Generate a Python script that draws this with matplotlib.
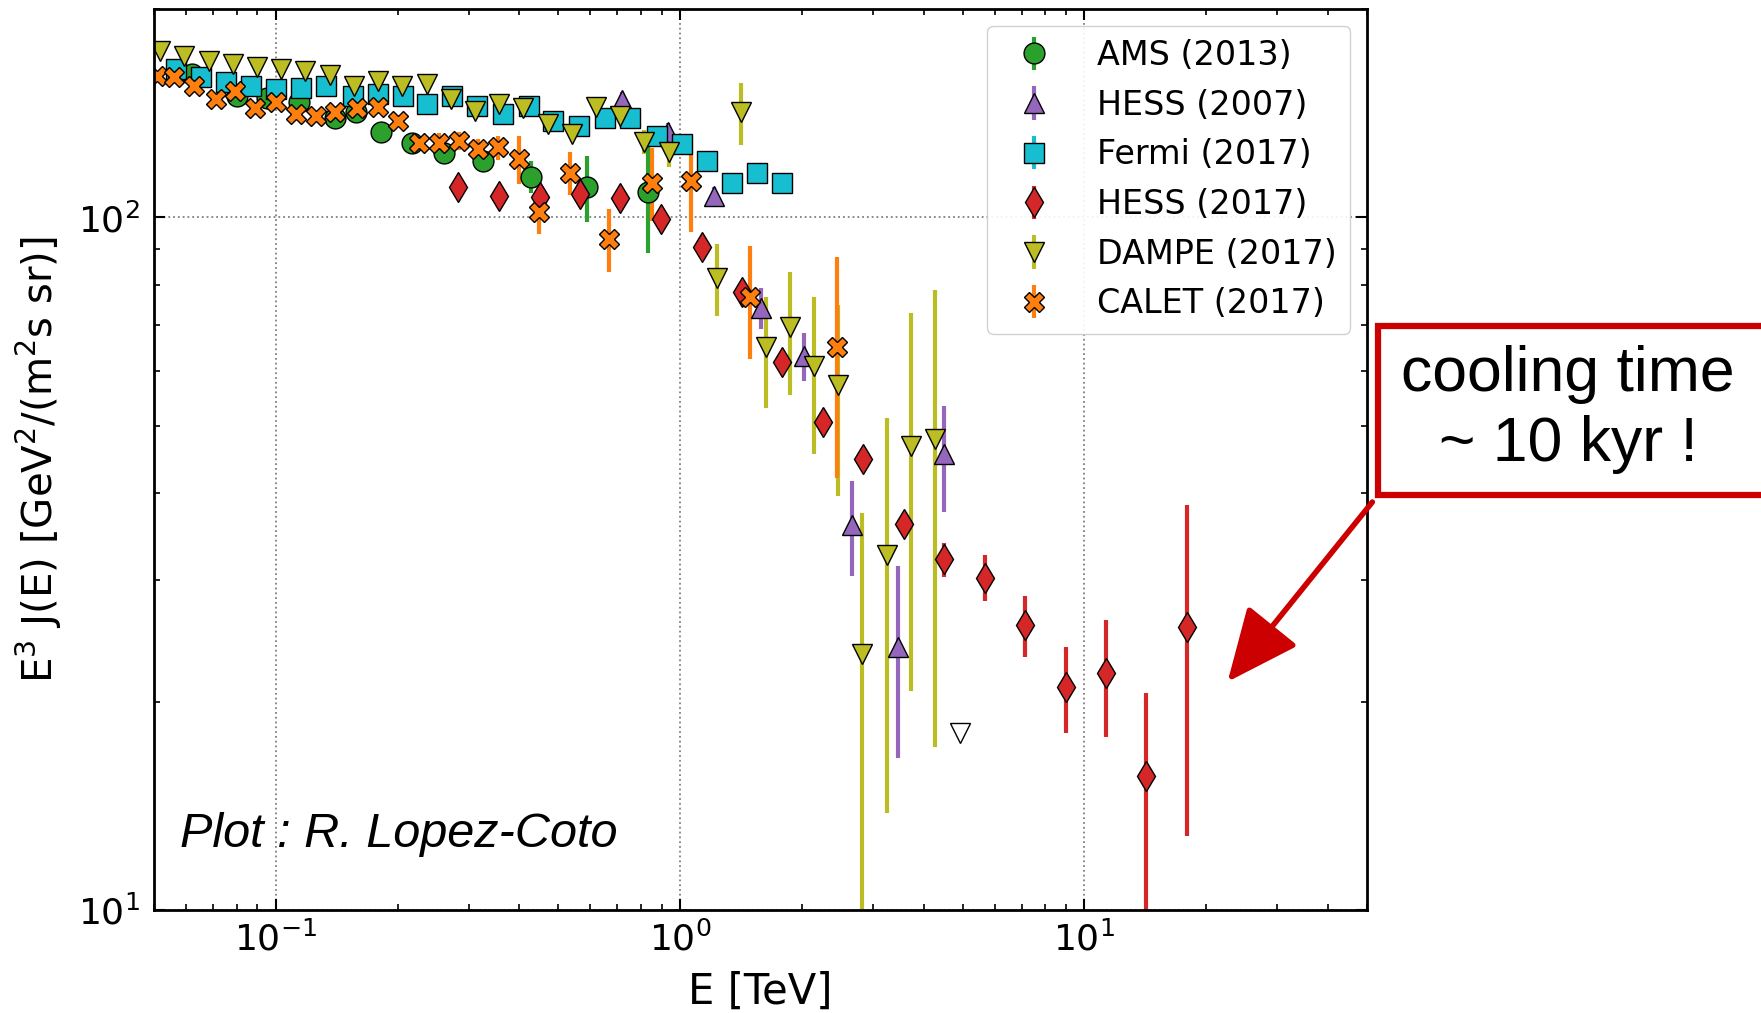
import numpy as np
import matplotlib
matplotlib.use('Agg')
import matplotlib.pyplot as plt
from matplotlib.patches import Rectangle, FancyArrowPatch
from matplotlib.ticker import NullFormatter

# AMS (2013)
ams_E = [0.062, 0.080, 0.095, 0.114, 0.140, 0.158, 0.182, 0.217, 0.260, 0.325, 0.428, 0.59, 0.833]
ams_J = [161, 150, 149, 147, 139, 142, 133, 128, 124, 120.5, 114.5, 110.6, 109]
ams_err = [1, 1, 1, 1, 1.5, 1.5, 2, 2, 3, 4, 6, 12, 20]

# HESS (2007)
hess07_E = [0.717, 0.935, 1.215, 1.585, 2.02, 2.66, 3.46, 4.5]
hess07_J = [148, 133, 107.5, 74, 63, 36, 24, 45.5]
hess07_err = [4, 4, 3, 5, 5, 5.6, 7.4, 8]

# Fermi (2017)
fermi_E = [0.0567, 0.0654, 0.0754, 0.0870, 0.1003, 0.1156, 0.1334, 0.1553, 0.1791,
           0.2067, 0.2359, 0.2721, 0.3137, 0.3656, 0.4217, 0.4862, 0.5609, 0.6518,
           0.7518, 0.8753, 1.0097, 1.164, 1.343, 1.548, 1.785]
fermi_J = [163.8, 159.3, 156.7, 155.0, 153.2, 154.0, 155.0, 149.9, 150.7,
           149.9, 145.8, 149.9, 145.0, 141.1, 145.0, 138.0, 135.7, 139.4,
           139.4, 131.2, 127.6, 120.7, 112.3, 116.1, 112.3]
fermi_err = [2, 2, 2, 2, 2, 2, 2, 2, 2, 2, 2, 2, 2.5, 2.5, 2.5, 2.5, 3, 3,
             3, 3, 3, 3, 3, 3, 3]

# HESS (2017)
hess17_E = [0.283, 0.357, 0.449, 0.566, 0.712, 0.897, 1.13, 1.42, 1.79, 2.25,
            2.84, 3.57, 4.50, 5.66, 7.13, 8.98, 11.3, 14.2, 17.9]
hess17_J = [110.5, 107.5, 106.9, 108.0, 106.8, 99.6, 90.5, 78.0, 61.8, 50.7,
            44.8, 36.1, 32.1, 30.2, 25.8, 21.0, 22.0, 15.6, 25.6]
hess17_lo = [2, 2, 2, 2, 2, 2, 2, 2, 1.5, 1.5, 1.5, 1.5, 1.8, 2.3, 2.6, 3, 4.2, 6.0, 12.8]
hess17_hi = [2, 2, 2, 2, 2, 2, 2, 2, 1.5, 1.5, 1.5, 1.5, 1.8, 2.3, 2.6, 3, 4.2, 5.0, 12.8]

# DAMPE (2017)
dampe_E = [0.0517, 0.0594, 0.0682, 0.0782, 0.0898, 0.1031, 0.1184, 0.1359, 0.1560,
           0.1790, 0.2055, 0.2359, 0.2708, 0.3108, 0.3568, 0.4096, 0.4702, 0.5397,
           0.6194, 0.7110, 0.8162, 0.9369, 1.2346, 1.417, 1.627, 1.867, 2.143,
           2.460, 2.824, 3.242, 3.721, 4.272]
dampe_J = [174.1, 171.2, 168.4, 166.5, 164.7, 163.8, 162.9, 160.7, 155.0,
           157.6, 155.0, 155.8, 148.2, 142.6, 145.8, 144.1, 136.4, 131.9,
           144.5, 140.3, 128.7, 124.2, 81.9, 141.8, 64.9, 69.4, 61.1,
           57.2, 23.4, 32.6, 46.7, 47.9]
dampe_err = [2, 2, 2, 2, 2, 2, 2, 2, 2, 2, 2, 2, 2.5, 2.5, 3, 3, 3, 3.5,
             4, 4, 5, 6, 9.8, 14.7, 11.8, 14, 15.6, 17.6, 14, 18.8, 26, 30.7]

# open triangle (no legend entry)
open_E = [4.92]
open_J = [18.0]

# CALET (2017)
calet_E = [0.0507, 0.0561, 0.0628, 0.0710, 0.0794, 0.0888, 0.1003, 0.1122, 0.1255,
           0.1404, 0.1586, 0.1793, 0.2005, 0.2264, 0.2532, 0.2833, 0.3170, 0.3545,
           0.4006, 0.4481, 0.5327, 0.6667, 0.8516, 1.0646, 1.490, 2.443]
calet_J = [160.2, 159.3, 155.0, 148.2, 152.4, 144.1, 146.6, 141.1, 140.3,
           141.8, 144.1, 144.5, 138.0, 128.3, 128.3, 129.0, 125.5, 126.2,
           121.4, 101.7, 116.1, 93.1, 112.3, 113.0, 76.7, 64.9]
calet_err = [2, 2, 2, 2, 2, 2, 2, 2, 2, 2, 2, 2, 2.5, 3, 4, 4, 4.5, 5,
             9.5, 7, 8.4, 9.8, 13.6, 17.7, 14.2, 22.8]

fig = plt.figure(figsize=(17.61, 10.13), dpi=100)
ax = fig.add_axes([0.0875, 0.1017, 0.6888, 0.8894])

ms = 15
kw = dict(linestyle='none', mec='k', mew=1.0, ms=ms, elinewidth=3, capsize=0)

ax.errorbar(ams_E, ams_J, yerr=ams_err, fmt='o', color='tab:green', label='AMS (2013)', **kw)
ax.errorbar(hess07_E, hess07_J, yerr=hess07_err, fmt='^', color='tab:purple', label='HESS (2007)', **kw)
ax.errorbar(fermi_E, fermi_J, yerr=fermi_err, fmt='s', color='tab:cyan', label='Fermi (2017)', **kw)
ax.errorbar(hess17_E, hess17_J, yerr=[hess17_lo, hess17_hi], fmt='d', color='tab:red',
            label='HESS (2017)', linestyle='none', mec='k', mew=1.0, ms=ms * 1.05,
            elinewidth=3, capsize=0)
ax.errorbar(dampe_E, dampe_J, yerr=dampe_err, fmt='v', color='tab:olive', label='DAMPE (2017)', **kw)
ax.plot(open_E, open_J, 'v', mfc='white', mec='k', mew=1.0, ms=ms)
ax.errorbar(calet_E, calet_J, yerr=calet_err, fmt='X', color='tab:orange', label='CALET (2017)', **kw)

ax.set_xscale('log')
ax.set_yscale('log')
ax.set_xlim(0.05, 50)
ax.set_ylim(10, 200)
ax.yaxis.set_minor_formatter(NullFormatter())
ax.xaxis.set_minor_formatter(NullFormatter())

ax.grid(True, which='major', linestyle=':', color='gray', lw=1.3)
ax.tick_params(which='both', direction='in', top=True, right=True, labelsize=26)
ax.tick_params(which='major', length=8, width=1.5)
ax.tick_params(which='minor', length=4, width=1.2)
ax.tick_params(axis='x', pad=8)
ax.tick_params(axis='y', pad=10)
for s in ax.spines.values():
    s.set_linewidth(2)

ax.set_xlabel('E [TeV]', fontsize=30, labelpad=10)
ax.set_ylabel(r'E$^3$ J(E) [GeV$^2$/(m$^2$s sr)]', fontsize=29, labelpad=10)

ax.legend(loc='upper right', fontsize=24, labelspacing=0.5, fancybox=True,
          framealpha=0.9, edgecolor='0.8', handletextpad=0.9, borderpad=0.4)

ax.text(0.021, 0.0835, 'Plot : R. Lopez-Coto', transform=ax.transAxes, fontsize=35,
        family='Liberation Sans', style='italic', va='center', ha='left')

# annotation box and arrow
red = '#cc0000'
fig.patches.append(Rectangle((0.7825, 0.5113), 0.25, 0.1668, transform=fig.transFigure,
                             facecolor='white', edgecolor=red, lw=4.5))
fig.text(0.8904, 0.5957, 'cooling time\n~ 10 kyr !', fontsize=45, family='Liberation Sans',
         ha='center', va='center', multialignment='center', linespacing=1.25)
fig.patches.append(FancyArrowPatch((0.7793, 0.5044), (0.6971, 0.327), transform=fig.transFigure,
                                   arrowstyle='-|>,head_length=0.9,head_width=0.4',
                                   mutation_scale=50, lw=4, color=red,
                                   shrinkA=0, shrinkB=0))

fig.savefig('out.png', dpi=100)
